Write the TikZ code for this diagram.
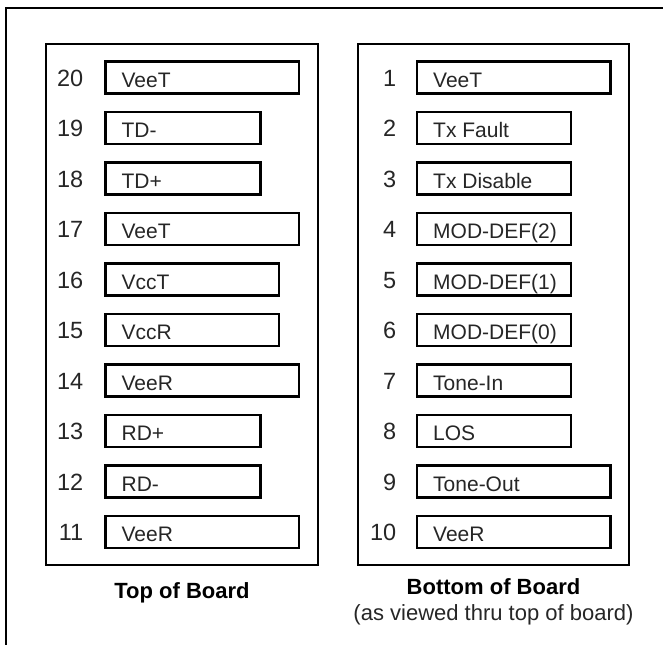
\documentclass[tikz,border=0pt]{standalone}
\usepackage{fontspec}
\setmainfont{Liberation Sans}
\begin{document}
\begin{tikzpicture}[x=1pt,y=-1pt,
  frame/.style={draw=black, line width=2pt},
  panel/.style={draw=black, line width=2.1pt},
  pinbox/.style={draw=black, line width=2.3pt, inner sep=0pt, outer sep=0pt, anchor=west, minimum height=32pt},
  pinnum/.style={font=\fontsize{23.5}{26}\selectfont, anchor=base east, inner sep=0pt, text=black!85},
  pinlbl/.style={font=\fontsize{21}{24}\selectfont, anchor=base west, inner sep=0pt, text=black!85},
  ttl/.style={font=\bfseries\fontsize{22}{26}\selectfont, anchor=base, inner sep=0pt},
  subttl/.style={font=\fontsize{22}{26}\selectfont, anchor=base, inner sep=0pt, text=black!85}]
\useasboundingbox (0,0) rectangle (663,645);
% outer frame (open at right and bottom)
\draw[frame] (663,8) -- (6,8) -- (6,645);
% panels
\draw[panel] (46.3,44.3) rectangle (317.7,564.7);
\draw[panel] (357.7,44.3) rectangle (629,564.7);
% left panel (top of board)
\foreach \n/\t/\r [count=\k from 0] in {20/VeeT/298.9, 19/TD-/260.6, 18/TD+/260.6, 17/VeeT/298.9, 16/VccT/279, 15/VccR/279, 14/VeeR/298.9, 13/RD+/260.6, 12/RD-/260.6, 11/VeeR/298.9}{
  \node[pinbox, minimum width={(\r-105.4)*1pt}] (box\n) at (105.4,{77.5+50.5*\k}) {};
  \node[pinnum] (num\n) at (83.5,{86+50.5*\k}) {\n};
  \node[pinlbl] (lbl\n) at ([xshift=16pt,yshift=-9.5pt]box\n.west) {\t};
}
% right panel (bottom of board)
\foreach \n/\t/\r [count=\k from 0] in {1/VeeT/610.6, 2/Tx Fault/571.2, 3/Tx Disable/571.2, 4/MOD-DEF(2)/571.2, 5/MOD-DEF(1)/571.2, 6/MOD-DEF(0)/571.2, 7/Tone-In/571.2, 8/LOS/571.2, 9/Tone-Out/610.6, 10/VeeR/610.6}{
  \node[pinbox, minimum width={(\r-417)*1pt}] (box\n) at (417,{77.5+50.5*\k}) {};
  \node[pinnum] (num\n) at (396.5,{86+50.5*\k}) {\n};
  \node[pinlbl] (lbl\n) at ([xshift=16pt,yshift=-9.5pt]box\n.west) {\t};
}
% captions
\node[ttl] (toptitle) at (182,598) {Top of Board};
\node[ttl] (bottitle) at (493.5,594) {Bottom of Board};
\node[subttl] (botsub) at (493.5,620) {(as viewed thru top of board)};
\end{tikzpicture}
\end{document}
